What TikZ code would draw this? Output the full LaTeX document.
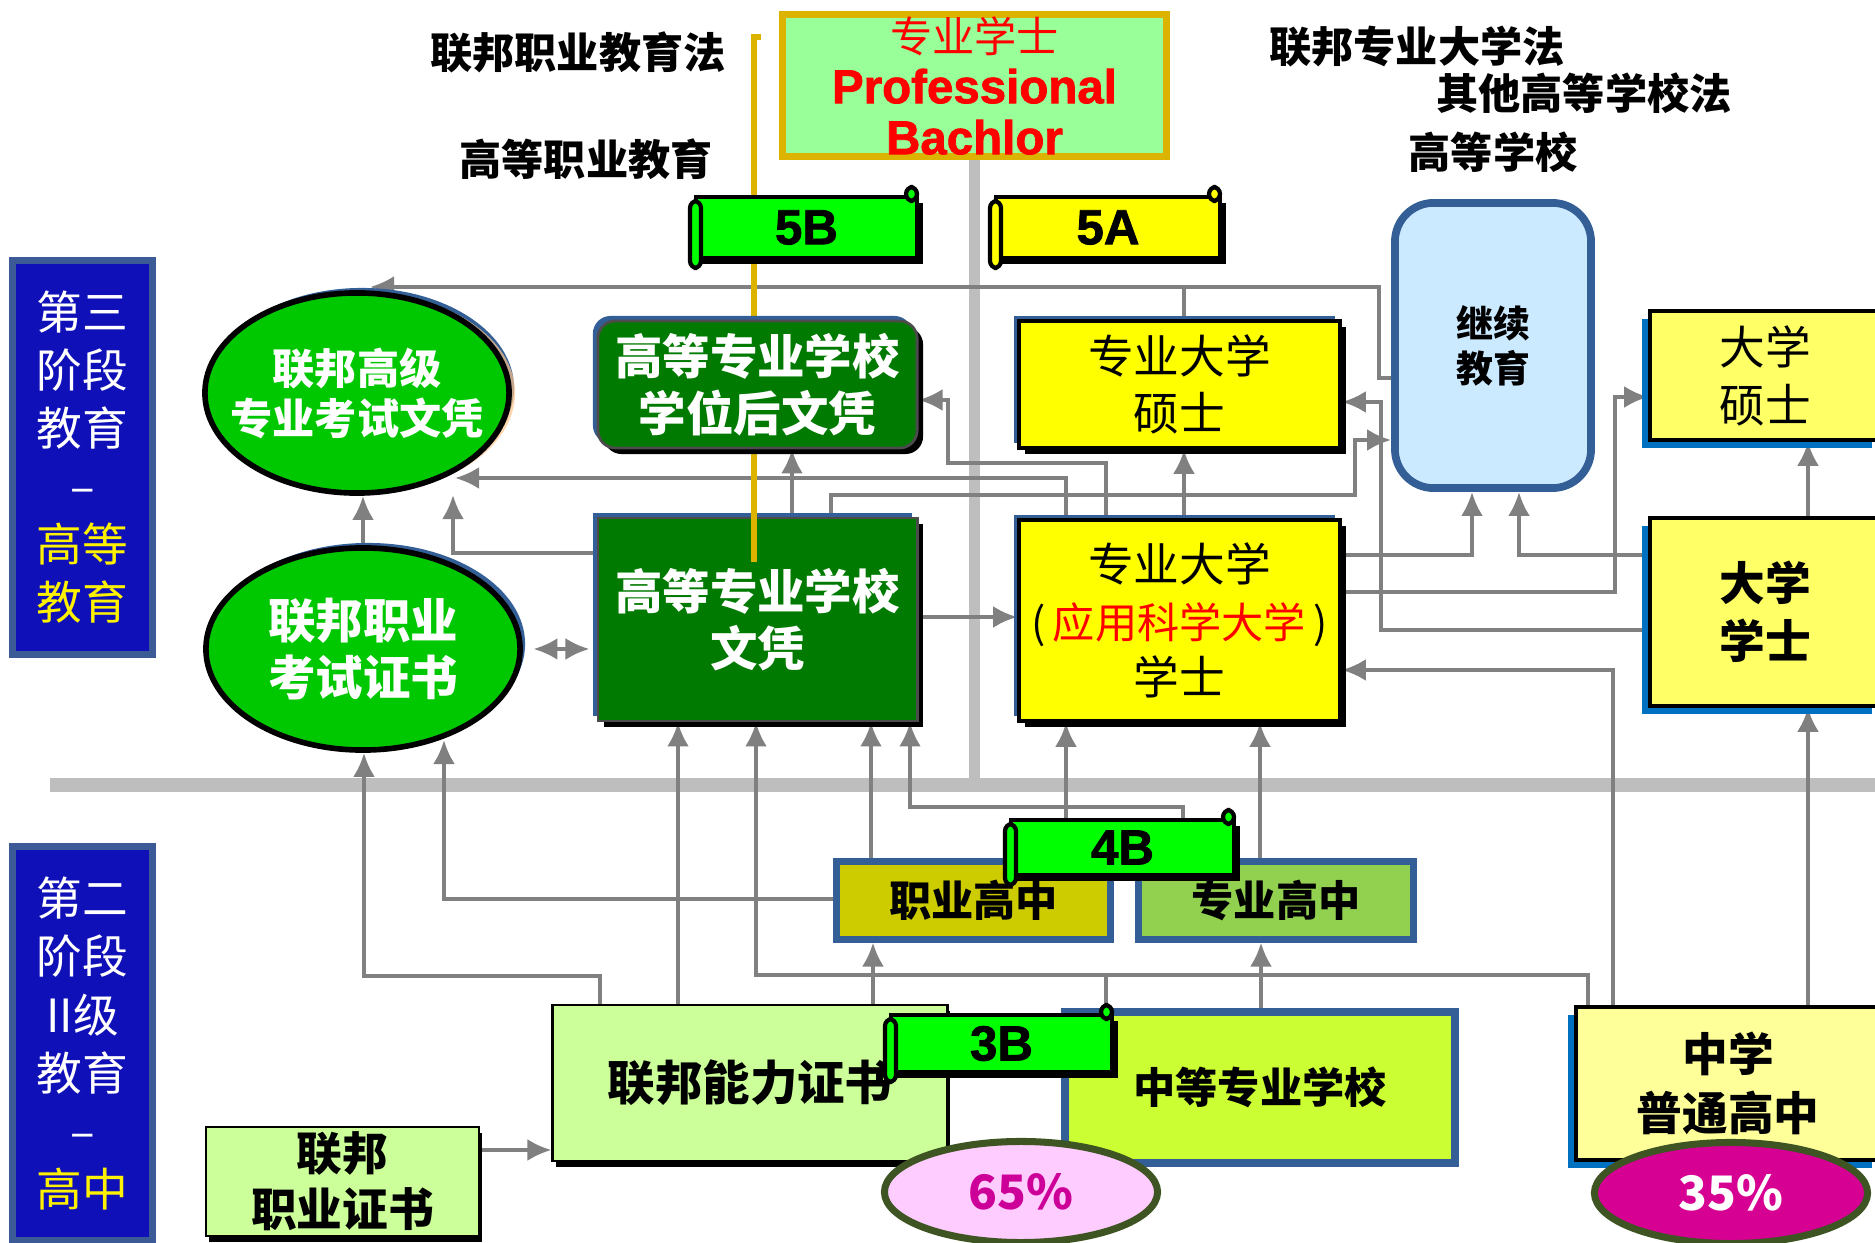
\documentclass[tikz,border=0pt]{standalone}
\usepackage{fontspec}
\setmainfont{Noto Sans CJK SC}
\newfontfamily\latinfont{Liberation Sans}[FakeBold=1.6]
\usetikzlibrary{arrows.meta,shapes.geometric,shadows}

\definecolor{barblue}{RGB}{16,16,184}
\definecolor{barline}{RGB}{60,90,150}
\definecolor{ovalgreen}{RGB}{0,200,0}
\definecolor{darkgreen}{RGB}{0,122,0}
\definecolor{boxyellow}{RGB}{255,255,0}
\definecolor{paleyellow}{RGB}{255,255,102}
\definecolor{creamyellow}{RGB}{255,255,153}
\definecolor{skyblue}{RGB}{204,234,255}
\definecolor{steelline}{RGB}{51,95,150}
\definecolor{brightblue}{RGB}{0,112,192}
\definecolor{olivebox}{RGB}{204,204,0}
\definecolor{grassgreen}{RGB}{146,208,80}
\definecolor{palegreen}{RGB}{204,255,153}
\definecolor{limegreen}{RGB}{204,255,51}
\definecolor{profgreen}{RGB}{153,255,153}
\definecolor{goldline}{RGB}{220,180,0}
\definecolor{pinkfill}{RGB}{255,204,255}
\definecolor{magentafill}{RGB}{214,0,147}
\definecolor{magentatext}{RGB}{204,0,153}
\definecolor{ringolive}{RGB}{62,84,34}
\definecolor{connline}{RGB}{128,128,128}
\definecolor{trunkgray}{RGB}{190,190,190}
\definecolor{scrollgreen}{RGB}{0,255,0}

\pgfdeclarelayer{wires}
\pgfsetlayers{wires,main}

\tikzset{
  >={Latex[length=2.4mm,width=2.2mm]},
  link/.style={draw=connline,line width=1.1pt},
  conn/.style={link,->},
  dconn/.style={link,<->},
  trunk/.style={draw=trunkgray},
  blackshadow/.style={drop shadow={shadow xshift=0.6mm,shadow yshift=-0.6mm,opacity=1,fill=black}},
  steelshadow/.style={general shadow={shadow xshift=-0.5mm,shadow yshift=0.5mm,fill=steelline}},
  plainbox/.style={rectangle,align=center,inner sep=0pt},
  bluebar/.style={plainbox,fill=barblue,draw=barline,line width=2pt,text=white,
    minimum width=1.39cm,minimum height=3.93cm,font=\fontsize{13}{16.5}\selectfont},
  lawtext/.style={plainbox,font=\fontsize{12}{14}\selectfont\bfseries},
  greenoval/.style={ellipse,inner sep=0pt,fill=ovalgreen,draw=black,line width=1.6pt,
    general shadow={shadow xshift=0.5mm,shadow yshift=0.5mm,fill=steelline}},
  ovaltext/.style={plainbox,text=white},
  darkbox/.style={plainbox,fill=darkgreen,draw=black!70,line width=0.8pt,text=white,
    steelshadow,blackshadow,font=\fontsize{13.5}{16.2}\selectfont\bfseries},
  yellowbox/.style={plainbox,fill=boxyellow,draw=black,line width=1pt,steelshadow,blackshadow,
    font=\fontsize{13}{16.3}\selectfont},
  contbox/.style={plainbox,fill=skyblue,draw=steelline,line width=2.2pt,rounded corners=11pt,
    font=\fontsize{10.5}{12.8}\selectfont\bfseries},
  unibox/.style={plainbox,fill=paleyellow,draw=black,line width=1pt,
    general shadow={shadow xshift=-0.8mm,shadow yshift=-0.8mm,fill=brightblue},
    font=\fontsize{13}{16.5}\selectfont},
  highbox/.style={plainbox,draw=steelline,line width=2pt,font=\fontsize{12}{14}\selectfont\bfseries},
  certbox/.style={plainbox,fill=palegreen,draw=black,line width=0.8pt,
    drop shadow={shadow xshift=0.3mm,shadow yshift=-0.6mm,opacity=1,fill=black},
    font=\fontsize{13.5}{16}\selectfont\bfseries},
  share/.style={ellipse,inner sep=0pt,draw=ringolive,line width=2pt,minimum width=2.73cm,
    minimum height=1.01cm,font=\fontsize{13.5}{16}\selectfont\bfseries},
  scrollpen/.style={draw=black,line width=1.2pt},
  scrolltext/.style={inner sep=0pt,font=\latinfont\fontsize{14}{16}\selectfont\bfseries}
}

\newcommand{\levelscroll}[7]{%
  \draw[scrollpen,fill=#6,blackshadow] (#2+6,#3) rectangle (#4,#5);
  \draw[scrollpen,fill=#6,rounded corners=2pt] (#2,#3+4) rectangle (#2+11,#5+10);
  \draw[scrollpen,fill=#6,rounded corners=2pt] (#4-11,#3-10) rectangle (#4,#3+4);
  \node[scrolltext] (#1) at ({(#2+#4)/2+3},{(#3+#5)/2}) {#7};}

\begin{document}
\begin{tikzpicture}[x=0.01cm,y=-0.01cm]
    \useasboundingbox (0,0) rectangle (1875,1243);
    \foreach \n/\x/\y in {k1/1379/378, k2/1379/287, k3/370/287, k4/1184/287,
                          m1/1106/463, m2/948/400, n1/455/478, n2/1066/478,
                          n3/453/495, n4/453/553, p1/792/480, q1/831/495, q2/1355/440,
                          r1/960/617, s1/1184/480, t1/1381/630, t2/1381/402,
                          u1/1472/555, u2/1519/555, v1/1615/592, v2/1615/397,
                          w1/1808/480, x1/1613/670, y1/1588/975, y2/756/975,
                          z1/1106/975, z2/1261/950, a1/678/900, a2/873/950,
                          a3/600/976, a4/364/976, b1/444/899, b2/444/740,
                          c1/871/800, c2/1066/800, d1/1183/807, d2/910/807,
                          d3/1260/800, e1/500/1150}
        \coordinate (\n) at (\x,\y);

    \node[bluebar] (stage3) at (82.5,457.5) {第三\\阶段\\教育\\–\\\textcolor{yellow}{高等}\\\textcolor{yellow}{教育}};
    \node[bluebar] (stage2) at (82.5,1043.5) {第二\\阶段\\II级\\教育\\–\\\textcolor{yellow}{高中}};

    \node[lawtext] (vetact) at (578,52) {联邦职业教育法};
    \node[lawtext] (hvet) at (586,159) {高等职业教育};
    \node[lawtext] (fhact) at (1417,47) {联邦专业大学法};
    \node[lawtext] (heact) at (1584,93) {其他高等学校法};
    \node[lawtext] (heinst) at (1493,152) {高等学校};

    \node[plainbox,fill=profgreen,draw=goldline,line width=2pt,text=red,minimum width=3.84cm,
          minimum height=1.42cm,font=\fontsize{12}{14.5}\selectfont] (prof) at (974.5,85.5)
          {专业学士\\{\latinfont\bfseries\fontsize{13.5}{14.5}\selectfont Professional}\\{\latinfont\bfseries\fontsize{13.5}{14.5}\selectfont Bachlor}};

    \node[greenoval,minimum width=3.04cm,minimum height=2cm,
          drop shadow={shadow xshift=0.6mm,shadow yshift=0mm,fill=orange!45,opacity=0.7}] (ell1) at (357,393) {};
    \node[ovaltext,font=\fontsize{12}{14.2}\selectfont\bfseries] (ell1t) at (ell1.center) {联邦高级\\专业考试文凭};
    \node[greenoval,minimum width=3.14cm,minimum height=2.02cm] (ell2) at (363,649) {};
    \node[ovaltext,font=\fontsize{13.5}{16.2}\selectfont\bfseries] (ell2t) at (ell2.center) {联邦职业\\考试证书};

    \node[darkbox,minimum width=3.19cm,minimum height=2.03cm] (dipl) at (757.5,619.5) {高等专业学校\\文凭};
    \draw[goldline,line width=1.8pt] (761,37) -- (754,37) -- (754,562);
    \node[darkbox,rounded corners=5pt,minimum width=3.19cm,minimum height=1.27cm] (post) at (757.5,384.5) {高等专业学校\\学位后文凭};

    \node[yellowbox,minimum width=3.21cm,minimum height=1.27cm] (fhm) at (1179.5,384.5) {专业大学\\硕士};
    \node[yellowbox,minimum width=3.21cm,minimum height=2.01cm,font=\fontsize{13}{16}\selectfont] (fhb) at (1179.5,620.5)
          {专业大学\\{\fontsize{12}{16}\selectfont(\,\textcolor{red}{应用科学大学}\,)}\\学士};
    \node[contbox,minimum width=1.96cm,minimum height=2.85cm] (cont) at (1493,345.5) {继续\\教育};
    \node[unibox,minimum width=2.3cm,minimum height=1.29cm] (unim) at (1765,375.5) {大学\\硕士};
    \node[unibox,minimum width=2.3cm,minimum height=1.88cm,font=\fontsize{13}{16.5}\selectfont\bfseries] (unib) at (1765,612) {大学\\学士};

    \node[highbox,fill=olivebox,minimum width=2.73cm,minimum height=0.77cm] (vhs) at (973.5,900.5) {职业高中};
    \node[highbox,fill=grassgreen,minimum width=2.74cm,minimum height=0.77cm] (shs) at (1276,900.5) {专业高中};
    \node[certbox,minimum width=3.94cm,minimum height=1.56cm] (bfc) at (750,1083) {联邦能力证书};
    \node[highbox,fill=limegreen,line width=2.4pt,minimum width=3.9cm,minimum height=1.51cm] (mss) at (1260,1087.5) {中等专业学校};
    \node[certbox,minimum width=2.73cm,minimum height=1.09cm,font=\fontsize{13}{16}\selectfont\bfseries] (bvc) at (342.5,1181.5) {联邦\\职业证书};
    \node[unibox,fill=creamyellow,minimum width=3.04cm,minimum height=1.53cm,font=\fontsize{13}{17}\selectfont\bfseries] (gym) at (1728,1083.5) {中学\\普通高中};
    \node[share,fill=pinkfill,text=magentatext] (p65) at (1021,1192) {65\%};
    \node[share,fill=magentafill,text=white] (p35) at (1731,1193) {35\%};

    \levelscroll{lv5B}{690}{197}{917}{258}{scrollgreen}{5B}
    \levelscroll{lv5A}{990}{197}{1220}{258}{boxyellow}{5A}
    \levelscroll{lv4B}{1005}{820}{1234}{875}{scrollgreen}{4B}
    \levelscroll{lv3B}{885}{1015}{1112}{1072}{scrollgreen}{3B}

    \begin{pgfonlayer}{wires}
    \draw[trunk,line width=3.7pt] (50,785) -- (1875,785);
    \draw[trunk,line width=3.1pt] (prof.south) -- (prof.south |- 0,785);
    \draw[conn] (cont.west |- k1) -- (k1) -- (k2) -- (k3);
    \draw[link] (fhm.north -| k4) -- (k4);
    \draw[conn] (fhb.north -| m1) -- (m1) -| (m2) -- (post.east |- m2);
    \draw[conn] (fhb.north -| n2) -- (n2) -- (n1);
    \draw[conn] (dipl.west |- n4) -- (n4) -- (n3);
    \draw[conn] (dipl.north -| p1) -- (post.south -| p1);
    \draw[conn] (dipl.north -| q1) -- (q1) -| (q2) -- (cont.west |- q2);
    \draw[conn] (ell2.north) -- (ell2.north |- ell1.south);
    \draw[dconn,shorten <=3pt,shorten >=2pt] (ell2.east) -- (dipl.west |- ell2.east);
    \draw[conn] (dipl.east |- r1) -- (fhb.west |- r1);
    \draw[conn] (fhb.north -| s1) -- (fhm.south -| s1);
    \draw[conn] (unib.west |- t1) -- (t1) -- (t2) -- (fhm.east |- t2);
    \draw[conn] (fhb.east |- u1) -- (u1) -- (cont.south -| u1);
    \draw[conn] (unib.west |- u2) -- (u2) -- (cont.south -| u2);
    \draw[conn] (fhb.east |- v1) -- (v1) -- (v2) -- (unim.west |- v2);
    \draw[conn] (unib.north -| w1) -- (unim.south -| w1);
    \draw[conn] (gym.north -| x1) -- (x1) -- (fhb.east |- x1);
    \draw[conn] (gym.north -| w1) -- (unib.south -| w1);
    \draw[conn] (gym.north -| y1) -- (y1) -- (y2) -- (dipl.south -| y2);
    \draw[link] (mss.north -| z1) -- (z1);
    \draw[conn] (mss.north -| z2) -- (shs.south -| z2);
    \draw[conn] (bfc.north -| a1) -- (dipl.south -| a1);
    \draw[conn] (bfc.north -| a2) -- (vhs.south -| a2);
    \draw[conn] (bfc.north -| a3) -- (a3) -- (a4) -- (ell2.south -| a4);
    \draw[conn] (vhs.west |- b1) -- (b1) -- (b2);
    \draw[conn] (vhs.north -| c1) -- (dipl.south -| c1);
    \draw[conn] (vhs.north -| c2) -- (fhb.south -| c2);
    \draw[conn] (shs.north -| d1) -- (d1) -- (d2) -- (dipl.south -| d2);
    \draw[conn] (shs.north -| d3) -- (fhb.south -| d3);
    \draw[conn] (bvc.east |- e1) -- (bfc.west |- e1);
    \end{pgfonlayer}
\end{tikzpicture}
\end{document}
